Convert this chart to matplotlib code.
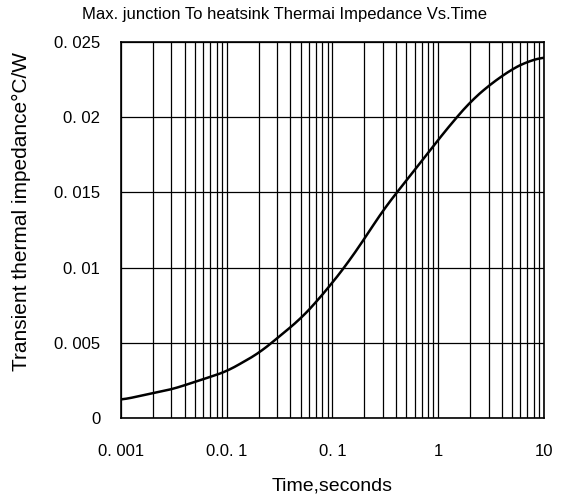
import numpy as np
import matplotlib.pyplot as plt
from matplotlib.ticker import FixedLocator, LogLocator, NullFormatter

# Datos (tiempo en s, impedancia en °C/W)
time_s = [0.001, 0.002, 0.003, 0.005, 0.01, 0.02, 0.03, 0.05, 0.07, 0.1, 0.136,
          0.2, 0.3, 0.5, 0.8, 1.0, 1.5, 2.0, 3.0, 5.0, 7.0, 10.0]
impedance = [0.0012, 0.00165, 0.0019, 0.0024, 0.0031, 0.0043, 0.0053, 0.0066, 0.0077,
             0.0090, 0.0102, 0.0119, 0.0138, 0.0158, 0.0176, 0.0185, 0.0200, 0.0210,
             0.0221, 0.0232, 0.0237, 0.0240]

x_ticks = [0.001, 0.01, 0.1, 1, 10]
x_labels = ['0. 001', '0.0. 1', '0. 1', '1', '10']
y_ticks = [0, 0.005, 0.01, 0.015, 0.02, 0.025]
y_labels = ['0', '0. 005', '0. 01', '0. 015', '0. 02', '0. 025']

plt.rcParams['font.family'] = ['Liberation Sans', 'DejaVu Sans']

fig = plt.figure(figsize=(5.63, 4.98), dpi=100)
ax = fig.add_axes([0.215, 0.1606, 0.751, 0.7551])

# Curva suavizada en escala logarítmica
lx = np.log10(time_s)
xs = np.linspace(lx[0], lx[-1], 400)
ys = np.interp(xs, lx, impedance)
k = np.ones(21) / 21
ys_s = np.convolve(np.pad(ys, 10, mode='edge'), k, mode='valid')
ax.plot(10 ** xs, ys_s, color='black', lw=1.8)

ax.set_xscale('log')
ax.set_xlim(0.001, 10)
ax.set_ylim(0, 0.025)
ax.xaxis.set_major_locator(FixedLocator(x_ticks))
ax.set_xticklabels(x_labels)
ax.xaxis.set_minor_locator(LogLocator(base=10, subs=np.arange(2, 10)))
ax.xaxis.set_minor_formatter(NullFormatter())
ax.set_yticks(y_ticks)
ax.set_yticklabels(y_labels)

ax.grid(True, which='both', axis='x', color='black', lw=0.9)
ax.grid(True, which='major', axis='y', color='black', lw=0.9)
ax.tick_params(which='both', length=0, labelsize=12)
ax.tick_params(axis='x', pad=19)
ax.tick_params(axis='y', pad=15)
for s in ax.spines.values():
    s.set_color('black')
    s.set_linewidth(1.2)

fig.text(0.506, 0.97, 'Max. junction To heatsink Thermai Impedance Vs.Time',
         fontsize=12, ha='center', va='center')
ax.set_xlabel('Time,seconds', fontsize=14, labelpad=13)
ax.set_ylabel('Transient thermal impedance°C/W', fontsize=15)
ax.yaxis.set_label_coords(-0.213, 0.55)

fig.savefig('out.png', dpi=100)
